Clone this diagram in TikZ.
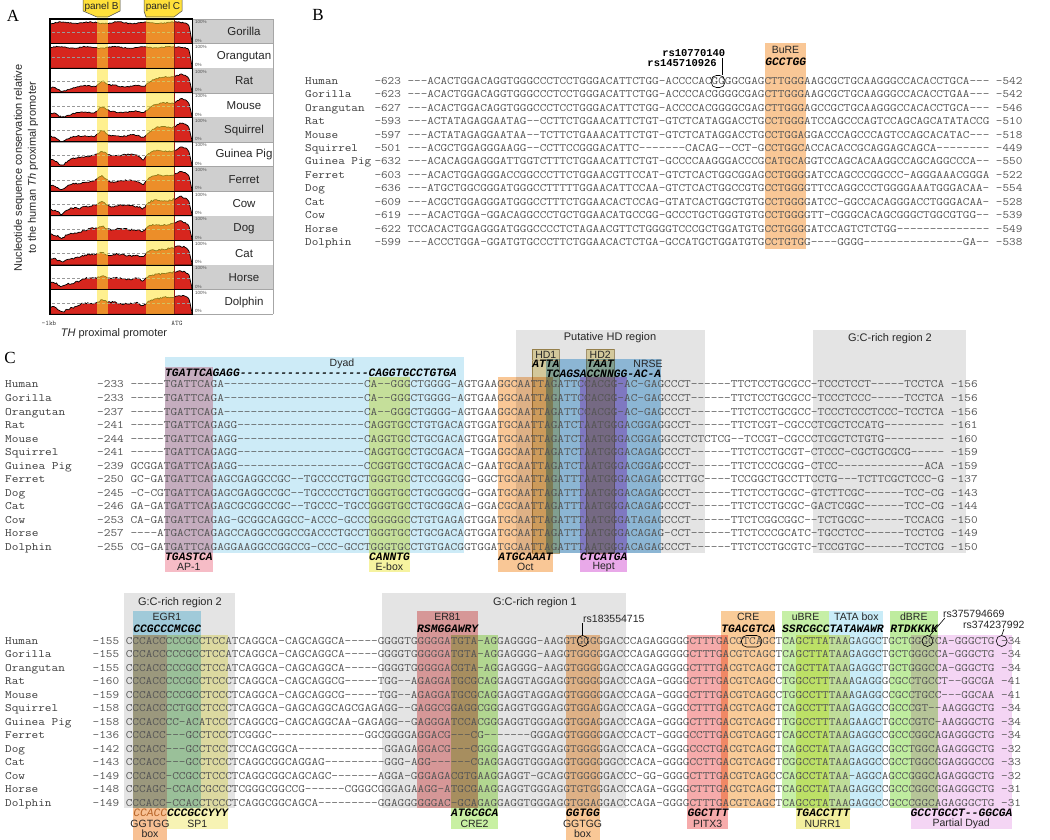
\documentclass[tikz,border=0pt]{standalone}
\usepackage{fontspec}
\usepackage{graphicx}
\newfontfamily\sansf{Liberation Sans}
\newfontfamily\seriff{Liberation Serif}
\newfontfamily\monof{Liberation Mono}
\usetikzlibrary{calc}
\definecolor{seqgray}{HTML}{555555}
\definecolor{namegray}{HTML}{3A3A3A}
\definecolor{regiongray}{HTML}{E4E4E4}
\definecolor{dyadblue}{HTML}{CDEBF7}
\definecolor{appink}{HTML}{F6BCC6}
\definecolor{eboxyel}{HTML}{F6F3A0}
\definecolor{octor}{HTML}{F9C796}
\definecolor{hdtan}{HTML}{ECE0AE}
\definecolor{hdedge}{HTML}{B5A37A}
\definecolor{nrseblue}{HTML}{9DCCEE}
\definecolor{heptmag}{HTML}{E9A9E9}
\definecolor{egrblue}{HTML}{B3E3F3}
\definecolor{ccaccor}{HTML}{F8C194}
\definecolor{sp1yel}{HTML}{F7F3B4}
\definecolor{erpink}{HTML}{F0A9A9}
\definecolor{cregreen}{HTML}{C8F0A2}
\definecolor{pitxpink}{HTML}{F6ABAB}
\definecolor{creor}{HTML}{F9CB98}
\definecolor{ubregreen}{HTML}{C6EFA6}
\definecolor{tatablue}{HTML}{C9ECF8}
\definecolor{nurryel}{HTML}{F3EF9E}
\definecolor{dbregreen}{HTML}{BFEC9F}
\definecolor{pdyad}{HTML}{F4D5F4}
\definecolor{consred}{HTML}{D7261E}
\definecolor{bandyel}{HTML}{FFE433}
\definecolor{tabyel}{HTML}{FFE03A}
\definecolor{speciesgray}{HTML}{CFCFCF}
\definecolor{atgline}{HTML}{8E1F1A}
\definecolor{ccacctxt}{HTML}{B8652A}
\newcommand\sqt[2]{\scalebox{#1}[1]{\fontsize{11.3}{11.3}\selectfont\ttfamily #2}}
\newcommand\mot[1]{{\fontsize{11.3}{11.3}\selectfont\monof\bfseries\itshape #1}}
\def\dten{----------}
\def\dnine{---------}
\tikzset{
  seq/.style={anchor=base west, inner sep=0pt, text=seqgray},
  nm/.style={anchor=base west, inner sep=0pt, text=namegray},
  lab/.style={inner sep=0pt, text=black!85, font=\sansf\fontsize{10.5}{10.5}\selectfont},
  motif/.style={anchor=base west, inner sep=0pt, text=black},
  hl/.style={blend mode=multiply},
  region/.style={fill=regiongray},
  declare function={S(\z)=1/(1+exp(-max(-9,min(9,\z))));G(\z)=exp(-min(9,\z*\z));}
}
\newcommand\consrow[9]{%
  \pgfmathsetmacro\rtop{19+24.6*#1}%
  \pgfmathsetmacro\rbot{\rtop+24.6}%
  \pgfmathsetseed{#1*13+5}%
  \filldraw[fill=consred, draw=black, line width=0.7pt, line join=round]
    (50,\rbot) -- plot[domain=50:191.6, samples=110]
    (\x, {\rbot - 22.4*max(0,min(1,(#2 + (#3-#2)*S((\x-80)/4) + #4*G((\x-102)/4.5) - #5*G((\x-62)/5) - #6*G((\x-143)/3.5) + (#7-#3)*S((\x-149)/3) + (#8-#7)*G((\x-181)/6) + 0.035*sin(13*\x+40*#1) + #9*rand)*S((190.5-\x)/0.8)))})
    -- (192,\rbot) -- cycle;
}
\begin{document}
\begin{tikzpicture}[x=1pt,y=-1pt]
\useasboundingbox (0,0) rectangle (1050,840);
% ================= Panel A =================
\node[font=\seriff\fontsize{17}{17}\selectfont, inner sep=0pt] (labA) at (13,16) {A};
\foreach \sp [count=\i from 0] in {Gorilla,Orangutan,Rat,Mouse,Squirrel,Guinea Pig,Ferret,Cow,Dog,Cat,Horse,Dolphin}{
  \pgfmathsetmacro\rt{19+24.6*\i}
  \pgfmathsetmacro\rb{\rt+24.6}
  \pgfmathtruncatemacro\odd{mod(\i,2)}
  \ifnum\odd=0 \fill[speciesgray] (192.5,\rt) rectangle (273,\rb);\fi
  \draw[gray!70, line width=0.4pt] (192.5,\rb) -- (273,\rb);
  \node[lab, font=\sansf\fontsize{11.5}{11.5}\selectfont] (sp\i) at (244,\rt+12.8) {\sp};
  \node[inner sep=0pt, anchor=north west, font=\sansf\fontsize{4.5}{4.5}\selectfont, text=black!70] (hi\i) at (195,\rt+1.5) {100\%};
  \node[inner sep=0pt, anchor=south west, font=\sansf\fontsize{4.5}{4.5}\selectfont, text=black!70] (lo\i) at (195,\rb-1) {0\%};
}
\draw[gray!70, line width=0.4pt] (192.5,19) -- (273,19) -- (273,314.2);
\consrow{0}{0.93}{0.93}{0}{0}{0.02}{0.93}{0.95}{0.025}
\consrow{1}{0.93}{0.93}{0}{0}{0.02}{0.93}{0.95}{0.025}
\consrow{2}{0.22}{0.30}{0.25}{0.18}{0.10}{0.68}{0.85}{0.03}
\consrow{3}{0.15}{0.25}{0.22}{0.12}{0.08}{0.62}{0.85}{0.03}
\consrow{4}{0.20}{0.28}{0.20}{0.15}{0.10}{0.65}{0.85}{0.03}
\consrow{5}{0.30}{0.52}{0.12}{0.20}{0.20}{0.70}{0.85}{0.03}
\consrow{6}{0.28}{0.45}{0.20}{0.20}{0.15}{0.72}{0.85}{0.03}
\consrow{7}{0.30}{0.45}{0.15}{0.22}{0.15}{0.70}{0.82}{0.04}
\consrow{8}{0.30}{0.50}{0.15}{0.22}{0.15}{0.72}{0.85}{0.04}
\consrow{9}{0.30}{0.45}{0.15}{0.20}{0.15}{0.72}{0.85}{0.04}
\consrow{10}{0.30}{0.50}{0.15}{0.20}{0.18}{0.72}{0.85}{0.04}
\consrow{11}{0.30}{0.50}{0.15}{0.22}{0.18}{0.72}{0.85}{0.04}
\foreach \i in {0,...,11}{
  \pgfmathsetmacro\ym{19+24.6*\i+13.2}
  \draw[gray!80, line width=0.5pt, dash pattern=on 3pt off 2pt] (52,\ym) -- (190,\ym);
}
\fill[bandyel, opacity=0.55] (97,16) rectangle (108,314);
\fill[bandyel, opacity=0.55] (146,16) rectangle (174,314);
\draw[atgline, line width=0.7pt] (174,19) -- (174,314);
\foreach \i in {1,...,11}{
  \draw[line width=1pt] (50,19+24.6*\i) -- (192.5,19+24.6*\i);
}
\draw[line width=1.2pt] (50,19) rectangle (192.5,314.2);
\filldraw[fill=tabyel, draw=black!70, line width=0.5pt] (83,-1) -- (120,-1) -- (120,11) -- (108,17) -- (97,17) -- (83,11) -- cycle;
\filldraw[fill=tabyel, draw=black!70, line width=0.5pt] (144,-1) -- (182,-1) -- (182,11) -- (174,17) -- (146,17) -- (144,11) -- cycle;
\node[lab, font=\sansf\fontsize{10}{10}\selectfont] (tabB) at (101.5,7) {panel B};
\node[lab, font=\sansf\fontsize{10}{10}\selectfont] (tabC) at (163,7) {panel C};
\node[rotate=90, align=center, inner sep=0pt, font=\sansf\fontsize{11}{14}\selectfont, text=black!85] (ylab) at (26,168) {Nucleotide sequence conservation relative\\to the human {\itshape Th} proximal promoter};
\node[inner sep=0pt, font=\fontsize{7}{7}\selectfont\ttfamily, text=black!75] (kb) at (49,323) {-1kb};
\node[inner sep=0pt, font=\fontsize{7}{7}\selectfont\ttfamily, text=black!75] (atg) at (177,323) {ATG};
\node[lab, font=\sansf\fontsize{11}{11}\selectfont] (thp) at (114,334) {{\itshape TH} proximal promoter};
% ================= Panel B =================
\node[font=\seriff\fontsize{17}{17}\selectfont, inner sep=0pt] (labB) at (318,15) {B};
\fill[hl, octor] (765.2,43) rectangle (805.7,249);
\node[lab] (bure) at (785.5,50) {BuRE};
\node[motif] (burem) at (765.2,65.5) {\mot{GCCTGG}};
\foreach \nm/\stt/\sqq/\enn [count=\i from 0] in {
Human/-623/---ACACTGGACAGGTGGGCCCTCCTGGGACATTCTGG-ACCCCACGGGGCGA{}GCTTGG{}GAAGCGCTGCAAGGGCCACACCTGCA---/-542,
Gorilla/-623/---ACACTGGACAGGTGGGCCCTCCTGGGACATTCTGG-ACCCCACGGGGCGA{}GCTTGG{}GAAGCGCTGCAAGGGCCACACCTGAA---/-542,
Orangutan/-627/---ACACTGGACAGGTGGGCCCTCCTGGGACATTCTGG-ACCCCACGGGGCGA{}GCTTGG{}GAGCCGCTGCAAGGGCCACACCTGCA---/-546,
Rat/-593/---ACTATAGAGGAATAG--CCTTCTGGAACATTCTGT-GTCTCATAGGACCT{}GCCTGG{}GATCCAGCCCAGTCCAGCAGCATATACCG/-510,
Mouse/-597/---ACTATAGAGGAATAA--TCTTCTGAAACATTCTGT-GTCTCATAGGACCT{}GCCTGG{}AGGACCCAGCCCAGTCCAGCACATAC---/-518,
Squirrel/-501/---ACGCTGGAGGGAAGG--CCTTCCGGGACATTC-------CACAG--CCT-{}GCCTGG{}CACCACACCGCAGGAGCAGCA--------/-449,
Guinea Pig/-632/---ACACAGGAGGGATTGGTCTTTCTGGAACATTCTGT-GCCCCAAGGGACCC{}GCATGC{}AGGTCCAGCACAAGGCCAGCAGGCCCA--/-550,
Ferret/-603/---ACACTGGAGGGACCGGCCCTTCTGGAACGTTCCAT-GTCTCACTGGCGGA{}GCCTGG{}GGATCCAGCCCGGCCC-AGGGAAACGGGA/-522,
Dog/-636/---ATGCTGGCGGGATGGGCCTTTTTGGAACATTCCAA-GTCTCACTGGCCGT{}GCCTGG{}GGTTCCAGGCCCTGGGGAAATGGGACAA-/-554,
Cat/-609/---ACGCTGGAGGGATGGGCCTTTCTGGAACACTCCAG-GTATCACTGGCTGT{}GCCTGG{}GGATCC-GGCCACAGGGACCTGGGACAA-/-528,
Cow/-619/---ACACTGGA-GGACAGGCCCTGCTGGAACATGCCGG-GCCCTGCTGGGTGT{}GCCTGG{}GGTT-CGGGCACAGCGGGCTGGCGTGG--/-539,
Horse/-622/TCCACACTGGAGGGATGGGCCCCTCTAGAACGTTCTGGGGTCCCGCTGGATGT{}GCCTGG{}GGATCCAGTCTCTGG\dten----/-549,
Dolphin/-599/---ACCCTGGA-GGATGTGCCCTTCTGGAACACTCTGA-GCCATGCTGGATGT{}GCCTGT{}GG----GGGG\dten-----GA--/-538}{
  \pgfmathsetmacro\yy{84.4+13.42*\i}
  \node[nm] (bn\i) at (305,\yy) {\sqt{1.1361}{\nm}};
  \node[seq] (bs\i) at (374.3,\yy) {\sqt{1.1361}{\stt\ \sqq\ \enn}};
}
\node[anchor=east, inner sep=0pt, font=\fontsize{10.5}{10.5}\selectfont\monof\bfseries] (rsA) at (725.5,53) {rs10770140};
\node[anchor=east, inner sep=0pt, font=\fontsize{10.5}{10.5}\selectfont\monof\bfseries] (rsB) at (717,63.5) {rs145710926};
\draw[rounded corners=5pt, line width=0.6pt] (711.3,75.5) rectangle (724.8,87.5);
\coordinate (cgtop) at (722.3,75.5);
\draw[line width=0.6pt] ($(rsA.south east)+(-3.2,1)$) -- (cgtop);
% ================= Panel C top =================
\node[font=\seriff\fontsize{17}{17}\selectfont, inner sep=0pt] (labC) at (10,358) {C};
\fill[region] (516,330) rectangle (705,553);
\fill[region] (813,330) rectangle (966,553);
\node[lab, font=\sansf\fontsize{11}{11}\selectfont] (hdreg) at (610,338) {Putative HD region};
\node[lab, font=\sansf\fontsize{11}{11}\selectfont] (gc2t) at (890,339) {G:C-rich region 2};
\fill[hl, dyadblue] (165,357) rectangle (464.2,553);
\fill[hl, appink] (165,367) rectangle (212.6,572);
\fill[hl, eboxyel] (369,377) rectangle (409.8,572);
\fill[hl, octor] (498.2,377) rectangle (552.6,572);
\fill[hl, nrseblue] (545.8,359) rectangle (661.4,553);
\filldraw[hl, fill=hdtan, draw=hdedge, line width=0.6pt] (532.2,349) rectangle (559.4,553);
\filldraw[hl, fill=hdtan, draw=hdedge, line width=0.6pt] (586.6,349) rectangle (613.8,553);
\draw[hdedge, line width=0.6pt] (532.2,360) -- (559.4,360) (586.6,360) -- (613.8,360);
\fill[hl, heptmag] (579.8,377) rectangle (627.4,572);
\node[lab] (dyadl) at (342,364) {Dyad};
\node[lab] (hd1) at (545.8,354.5) {HD1};
\node[lab] (hd2) at (600.2,354.5) {HD2};
\node[lab] (nrsel) at (648,364) {NRSE};
\node[motif] (dyadm) at (165,376) {\mot{TGATTCAGAGG\dten\dnine CAGGTGCCTGTGA}};
\node[motif] (attam) at (532.2,367.6) {\mot{ATTA}};
\node[motif] (taatm) at (586.6,367.6) {\mot{TAAT}};
\node[motif] (nrsem) at (545.8,377.1) {\mot{TCAGSACCNNGG-AC-A}};
\foreach \nm/\stt/\sqq/\enn [count=\i from 0] in {
Human/-233/-----TGATTCAGA\dten\dten-{}CA--GGGCTGGGG-AGTGAAGGCAATTAGATTCCACGG-AC-GAGCCCT{}------TTCTCCTGCGCC-TCCCTCCT-----TCCTCA/-156,
Gorilla/-233/-----TGATTCAGA\dten\dten-{}CA--GGGCTGGGG-AGTGAAGGCAATTAGATTCCACGG-AC-GAGCCCT{}------TTCTCCTGCGCC-TCCCTCCC-----TCCTCA/-156,
Orangutan/-237/-----TGATTCAGA\dten\dten-{}CA--GGGCTGGGG-AGTGAAGGCAATTAGATTCCACGG-AC-GAGCCCT{}------TTCTCCTGCGCC-TCCCTCCCTCCC-TCCTCA/-156,
Rat/-241/-----TGATTCAGAGG\dten\dnine{}CAGGTGCCTGTGACAGTGGATGCAATTAGATCTAATGGGACGGAGGCCT{}------TTCTCGT-CGCCCTCGCTCCATG\dnine/-161,
Mouse/-244/-----TGATTCAGAGG\dten\dnine{}CAGGTGCCTGCGACAGTGGATGCAATTAGATCTAATGGGACGGAGGCCT{}CTCTCG--TCCGT-CGCCCTCGCTCTGTG\dnine/-160,
Squirrel/-241/-----TGATTCAGAGG\dten\dnine{}CAGGTGCCTGCGACA-TGGAGGCAATTAGATCTAATGGGACAGAGCCCT{}------TTCTCCTGCGT-CTCCC-CGCTGCGCG-----/-159,
Guinea Pig/-239/GCGGATGATTCAGAGG\dten\dnine{}CCGGTGCCTGCGACAC-GAATGCAATTAGATCTAATGGGACGGAGCCCT{}------TTCTCCCGCGG-CTCC\dten---ACA/-159,
Ferret/-250/GC-GATGATTCAGAGCGAGGCCGC--TGCCCCTGC{}TGGGTGCCTCCGGCGG-GGCTGCAATTAGATTTAATGGGACAGAGCCTT{}GC----TCCGGCTGCCTTCCTG---TCTTCGCTCCC-G/-137,
Dog/-245/-C-CGTGATTCAGAGCGAGGCCGC--TGCCCCTGC{}TGGGTGCCTGCGGCGG-GGATGCAATTAGATTTAATGGGACAGAGCCCT{}------TTCTCCTGCGC-GTCTTCGC------TCC-CG/-143,
Cat/-246/GA-GATGATTCAGAGCGCGGCCGC--TGCCC-TGC{}CGGGTGCCTGCGGCAG-GGACGCAATTAGATTTAATGGGACAGAGCCCT{}------TTCTCCTGCGC-GACTCGGC------TCC-CG/-144,
Cow/-253/CA-GATGATTCAGAG-GCGGCAGGCC-ACCC-GCC{}CGGGGGCCTGTGAGAGTGGATGCAATTAGATTTAATGGGATAGAGCCCT{}------TTCTCGGCGGC--TCTGCGC------TCCACG/-150,
Horse/-257/----ATGACTCAGAGCCAGGCCGGCCGACCCTGCC{}TGGGTGCCTGCGACAGTGGATGCAATTAGATTTAATGGGACAGAG-CCT{}------TTCTCCCGCATC-TGCCTCC------TCCTCG/-149,
Dolphin/-255/CG-GATGATTCAGAGGAAGGCCGGCCG-CCC-GCC{}TGGGTGCCTGTGACGGTGGATGCAATTAGATTTAATGGGACAGAGCCCT{}------TTCTCCTGCGTC-TCCGTGC------TCCTCG/-150}{
  \pgfmathsetmacro\yy{387.9+13.55*\i}
  \node[nm] (tn\i) at (5,\yy) {\sqt{1.1462}{\nm}};
  \node[seq] (ts\i) at (97,\yy) {\sqt{1.1462}{\stt\ \sqq\ \enn}};
}
\node[motif] (ap1m) at (165,560.5) {\mot{TGASTCA}};
\node[motif] (eboxm) at (369,560.5) {\mot{CANNTG}};
\node[motif] (octm) at (498.2,560.5) {\mot{ATGCAAAT}};
\node[motif] (heptm) at (579.8,560.5) {\mot{CTCATGA}};
\node[lab] (ap1l) at (188.8,567) {AP-1};
\node[lab] (eboxl) at (389.4,567) {E-box};
\node[lab] (octl) at (525.4,567) {Oct};
\node[lab] (heptl) at (603.6,567) {Hept};
% ================= Panel C bottom =================
\fill[region] (124,593) rectangle (235,808);
\fill[region] (382,593) rectangle (626,808);
\node[lab, font=\sansf\fontsize{11}{11}\selectfont] (gc2b) at (180,603) {G:C-rich region 2};
\node[lab, font=\sansf\fontsize{11}{11}\selectfont] (gc1b) at (535,603) {G:C-rich region 1};
\fill[hl, egrblue] (133.1,611) rectangle (200.7,808);
\fill[hl, ccaccor] (133.1,635) rectangle (166.9,841);
\fill[hl, sp1yel] (166.9,635) rectangle (227.7,829);
\fill[hl, erpink] (417,611) rectangle (477.8,808);
\fill[hl, cregreen] (450.8,635) rectangle (498.1,829);
\fill[hl, octor] (565.7,635) rectangle (599.5,841);
\fill[hl, pitxpink] (687.4,635) rectangle (727.9,829);
\fill[hl, creor] (721.2,611) rectangle (775.3,808);
\fill[hl, ubregreen] (782,611) rectangle (829.3,808);
\fill[hl, tatablue] (829.3,611) rectangle (883.4,808);
\fill[hl, nurryel] (795.5,635) rectangle (849.6,829);
\fill[hl, dbregreen] (890.2,611) rectangle (937.5,808);
\fill[hl, pdyad] (910.5,635) rectangle (1011.9,829);
\node[lab] (egr1l) at (166.9,617) {EGR1};
\node[lab] (er81l) at (447.4,617) {ER81};
\node[lab] (crel) at (748.2,617) {CRE};
\node[lab] (ubrel) at (805.6,617) {uBRE};
\node[lab] (tatal) at (856.4,617) {TATA box};
\node[lab] (dbrel) at (913.8,617) {dBRE};
\node[motif] (egr1m) at (133.1,632.5) {\mot{CCGCCCMCGC}};
\node[motif] (er81m) at (417,632.5) {\mot{RSMGGAWRY}};
\node[motif] (crem) at (721.2,632.5) {\mot{TGACGTCA}};
\node[motif] (ubrem) at (782,632.5) {\mot{SSRCGCC}};
\node[motif] (tatam) at (829.3,632.5) {\mot{TATAWAWR}};
\node[motif] (dbrem) at (890.2,632.5) {\mot{RTDKKKK}};
\foreach \nm/\stt/\sqq/\enn [count=\i from 0] in {
Human/-155/CCCACCCCCGCCTCCATCAGGCA-CAGCAGGCA{}-----GGGGT{}GGGGGATGT{}A-AGGAGGGG-AA{}GGTGG{}GGGACCCAGAGGG{}GGCTTT{}GACGTCAGCTCAGCTTATAAGAGGCTGCTGGGCCA-GGGCTG/-34,
Gorilla/-155/CCCACCCCCGCCTCCATCAGGCA-CAGCAGGCA{}-----GGGGT{}GGGGGATGT{}A-AGGAGGGG-AA{}GGTGG{}GGGACCCAGAGGG{}GGCTTT{}GACGTCAGCTCAGCTTATAAGAGGCTGCTGGGCCA-GGGCTG/-34,
Orangutan/-155/CCCACCCCCGCCTCCATCAGGCA-CAGCAGGCA{}-----GGGGT{}GGGGGACGT{}A-AGGAGGGG-AA{}GGTGG{}GGGACCCAGAGGG{}GGCTTT{}GACGTCAGCTCAGCTTATAAGAGGCTGCTGGGCCA-GGGCTG/-34,
Rat/-160/CCCACCCCCGCCTCCCTCAGGCA-CAGCAGGCG{}-----TGG--{}AGAGGATGC{}GCAGGAGGTAGGA{}GGTGG{}GGGACCCAGA-GG{}GGCTTT{}GACGTCAGCCTGGCCTTTAAAGAGGGCGCCTGCCT--GGCGA/-41,
Mouse/-159/CCCACCCCCGCCTCCCTCAGGCA-CAGCAGGCG{}-----TGG--{}AGAGGATGC{}GCAGGAGGTAGGA{}GGTGG{}GGGACCCAGA-GG{}GGCTTT{}GACGTCAGCCTGGCCTTTAAAGAGGCCGCCTGCC---GGCAA/-41,
Squirrel/-158/CCCACCCCTGCCTCCCTCAGGCA-GAGCAGGCA{}GCGAGAGG--{}GAGGCGGAG{}GCGGGAGGTGGGA{}GGTGG{}AGGACCCAGA-GG{}GCCTTT{}GACGTCAGCTCAGCCTTTAAGAGGCCGCCCGT--AAGGGCTG/-34,
Guinea Pig/-158/CCCACCCC-ACATCCCTCAGGCG-CAGCAGGCA{}A-GAGAGG--{}GAGGGATCC{}ACGGGAGGTGGGA{}GGTGG{}AGGACCCAGA-GG{}GGCTTT{}GACGTCAGCTTGGCCTTTAAGAAGCTGCCCGTC-AAGGGCTG/-34,
Ferret/-136/CCCACC---GCCTCCCTCGGGC\dten-{}---GGCGGGG{}AGGACG---{}CG-------GGGA{}GGTGG{}GGGACCCACT-GG{}GGCCTT{}GACGTCAGCTCAGCCTATAAGAGGCCGCCCGGCAGAGGGCTG/-34,
Dog/-142/CCCACC---GCCTCCCTCCAGCGGCA-------{}------GGAG{}AGGACG---{}CGGGGAGGTGGGA{}GGTGG{}GGGACCCACA-GG{}GGCCCT{}GACGTCAGCTCAGCCTATAAGAGGCCGCCTGGCAGAGGGCTG/-32,
Cat/-143/CCCACC---GCCTCCCTCAGGCGGCAGGAG---{}------GGG-{}AGG------{}CGAGGAGGTGGGA{}GGTGG{}GGGGCCCACA-GG{}GGCCTT{}GACGTCAGCTCGGCCTATAAGAGGCCGCCTGGCGGAGGGCCG/-33,
Cow/-149/CCCACC-CCGCCTCCCTCAGGCGGCAGCAGC--{}-----AGGA-{}GGGAGACGT{}GAAGGAGGT-GCA{}GGTGG{}GGGACCC-GG-GG{}GGCTTT{}GACGTCAGCCCAGCCTATAA-AGGCAGCCGGGCAGAGGGCTG/-32,
Horse/-148/CCCAGC-CCACCGCCCTCGGGCGGCCG------{}CGGGCGGGAG{}AAGG-ATGC{}GAAGGAGGTGGGA{}GGTGT{}GGGACCCAGA-GG{}GGCTTT{}GACGTCAGCTCAGCCTATAAGAGGCCGCCCGGCGGAGGGCTG/-31,
Dolphin/-149/CCCACC-CCACCTCCCTCAGGCGGCAGCA----{}-----GGAGG{}GGGGAC-GC{}AGAGGAGGTGGGA{}GGTGG{}AGGACCCAGA-GG{}GGCTTT{}GACGTCAGCTCAGCCTATAAGAGGCCGCCCGGCAGAGGGCTG/-31}{
  \pgfmathsetmacro\yy{644.4+13.5*\i}
  \node[nm] (un\i) at (5,\yy) {\sqt{1.1395}{\nm}};
  \node[seq] (us\i) at (92.5,\yy) {\sqt{1.1395}{\stt\ \sqq\ \enn}};
}
\node[anchor=base west, inner sep=0pt, text=ccacctxt, font=\fontsize{11.3}{11.3}\selectfont\monof\itshape] (ccaccm) at (133.1,816.5) {CCACC};
\node[motif] (sp1m) at (166.9,816.5) {\mot{CCCGCCYYY}};
\node[motif] (cre2m) at (450.8,816.5) {\mot{ATGCGCA}};
\node[motif] (ggtggm) at (565.7,816.5) {\mot{GGTGG}};
\node[motif] (pitxm) at (687.4,816.5) {\mot{GGCTTT}};
\node[motif] (nurrm) at (795.5,816.5) {\mot{TGACCTTT}};
\node[motif] (pdyadm) at (910.5,816.5) {\mot{GCCTGCCT--GGCGA}};
\node[lab] (ggtgga) at (150,823.5) {GGTGG};
\node[lab] (boxa) at (150,834) {box};
\node[lab] (sp1l) at (197.2,823.5) {SP1};
\node[lab] (cre2l) at (474.5,823.5) {CRE2};
\node[lab] (ggtggb) at (582.6,823.5) {GGTGG};
\node[lab] (boxb) at (582.6,834) {box};
\node[lab] (pitxl) at (707.6,823.5) {PITX3};
\node[lab] (nurrl) at (822.6,823.5) {NURR1};
\node[lab] (pdyadl) at (961.2,823.5) {Partial Dyad};
% SNP marks
\node[lab, anchor=west] (rs183) at (583,619) {rs183554715};
\coordinate (c183) at (582.6,641);
\coordinate (c183t) at (582.6,635.5);
\draw[line width=0.6pt] (c183) circle[radius=5.5pt];
\draw[line width=0.6pt] ($(rs183.south west)+(-0.4,0.5)$) -- (c183t);
\draw[rounded corners=5pt, line width=0.6pt] (741.5,635.5) rectangle (761.7,647);
\node[lab, anchor=west] (rs375) at (943,614) {rs375794669};
\node[lab, anchor=west] (rs374) at (963,625) {rs374237992};
\coordinate (c375) at (927.4,641);
\coordinate (c375t) at (929.5,636);
\coordinate (c374) at (1001.7,641);
\coordinate (c374t) at (1001.7,635.5);
\draw[line width=0.6pt] (c375) circle[radius=5.5pt];
\draw[line width=0.6pt] (c374) circle[radius=5.5pt];
\draw[line width=0.6pt] ($(rs375.south west)+(2,0)$) -- (c375t);
\draw[line width=0.6pt] ($(rs374.south west)+(41,0)$) .. controls (1003,632) .. (c374t);
\end{tikzpicture}
\end{document}
